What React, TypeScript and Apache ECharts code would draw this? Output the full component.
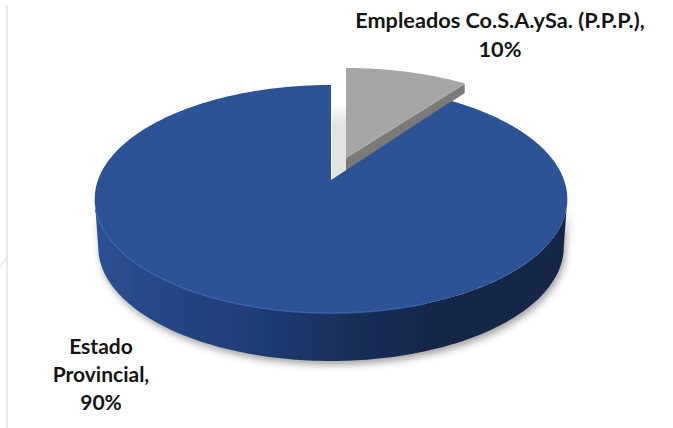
import React, { useEffect, useRef } from "react";
import * as echarts from "echarts";

const categories = ["Empleados Co.S.A.ySa. (P.P.P.),", "Estado Provincial,"];
const values = [10, 90];
const labelLines = [["Empleados Co.S.A.ySa. (P.P.P.),", "10%"], ["Estado", "Provincial,", "90%"]];

const W = 673, H = 428;
const CX = 331, CY = 180, A = 233, PK = 0.1667, PA = -80.83, DEPTH = 48, LOW_SHRINK = 0.985;
const SHIFT = [15, -22];
const RIM_SHIFT = [15, -17];
const TOTAL = values.reduce((a, b) => a + b, 0);
const FONT_TOP = "bold 21.7px Lato";
const FONT = "bold 21px Lato";

function proj(deg: number, dx = 0, dy = 0) {
  const r = (deg * Math.PI) / 180;
  const t = Math.cos(r), s = Math.sin(r), q = PK * t + 1;
  return [CX + (A * s) / q + dx, (PA * t + CY) / q + dy];
}
function arc(from: number, to: number, dx = 0, dy = 0) {
  const n = Math.max(2, Math.ceil(Math.abs(to - from)));
  const pts: number[][] = [];
  for (let i = 0; i <= n; i++) pts.push(proj(from + ((to - from) * i) / n, dx, dy));
  return pts;
}
const FL = 99.6, FR = 260.4;

function renderItem(params: any, api: any) {
  const i = params.dataIndex;
  const share = (api.value(1) / TOTAL) * 360;
  if (i === 0) {
    const [dx, dy] = SHIFT;
    const end = proj(share, RIM_SHIFT[0] - 2, RIM_SHIFT[1]);
    const apex = [CX + dx, CY + dy];
    const rim = arc(0, share, RIM_SHIFT[0], RIM_SHIFT[1]);
    rim[rim.length - 1] = end;
    return {
      type: "group",
      children: [
        {
          type: "polygon",
          shape: { points: [apex, end, [end[0], end[1] + 9], [apex[0], apex[1] + 14]] },
          style: { fill: "#7b7a79" },
        },
        {
          type: "polygon",
          shape: { points: [apex, ...rim] },
          style: { fill: "#a8a6a5" },
        },
        ...labelLines[0].map((t, k) => ({
          type: "text",
          style: {
            x: 500, y: 20 + k * 29, text: t, fill: "#151515", align: "center", verticalAlign: "middle",
            font: FONT_TOP,
          },
        })),
      ],
    };
  }
  const front = arc(FL, FR);
  const frontLow = arc(FL, FR, 0, DEPTH)
    .map((p) => [CX + (p[0] - CX) * LOW_SHRINK, p[1]])
    .reverse();
  return {
    type: "group",
    children: [
      {
        type: "polygon",
        shape: { points: [...front, ...frontLow] },
        style: {
          fill: new echarts.graphic.LinearGradient(0, 0, 1, 0, [
            { offset: 0, color: "#2d5294" },
            { offset: 0.1, color: "#27488a" },
            { offset: 0.35, color: "#1f3c74" },
            { offset: 0.52, color: "#1a2f5b" },
            { offset: 0.72, color: "#14274a" },
            { offset: 1, color: "#142648" },
          ]),
          shadowBlur: 7, shadowOffsetX: 2, shadowOffsetY: 4, shadowColor: "rgba(60,60,60,0.45)",
        },
      },
      {
        type: "polygon",
        shape: { points: [[CX + 1, 104], [CX + SHIFT[0], 104], [CX + SHIFT[0], CY - 10], [CX + 1, CY]] },
        style: {
          fill: new echarts.graphic.LinearGradient(0, 0, 0, 1, [
            { offset: 0, color: "#ffffff" },
            { offset: 0.28, color: "#e2e2e2" },
            { offset: 1, color: "#e4e4e4" },
          ]),
        },
      },
      {
        type: "polygon",
        shape: { points: [[CX, CY], ...arc(360 - share, 360)] },
        style: { fill: "#2c5395" },
      },
      {
        type: "polyline",
        shape: { points: arc(FL + 60, FR - 5) },
        style: { stroke: "#3a62aa", lineWidth: 1.5, fill: "none" },
      },
      ...labelLines[1].map((t, k) => ({
        type: "text",
        style: {
          x: 101, y: 345 + k * 28, text: t, fill: "#151515", align: "center", verticalAlign: "middle",
          font: FONT,
        },
      })),
    ],
  };
}

export default function App() {
  const ref = useRef<HTMLDivElement>(null);
  useEffect(() => {
    const chart = echarts.init(ref.current!, undefined, { renderer: "svg" });
    chart.setOption({
      animation: false,
      backgroundColor: "#ffffff",
      graphic: [
        { type: "line", shape: { x1: 7, y1: 5, x2: 7, y2: 428 }, style: { stroke: "#e8e8e8", lineWidth: 2 } },
        { type: "line", shape: { x1: 0, y1: 267, x2: 7, y2: 257 }, style: { stroke: "#cfdcdc", lineWidth: 1 } },
      ],
      series: [
        {
          type: "custom",
          coordinateSystem: "none",
          renderItem,
          data: categories.map((c, i) => ({ name: c, value: [i, values[i]] })),
          silent: true,
        },
      ],
    });
    return () => chart.dispose();
  }, []);
  return <div ref={ref} style={{ position: "fixed", left: 0, top: 0, width: W, height: H }} />;
}
